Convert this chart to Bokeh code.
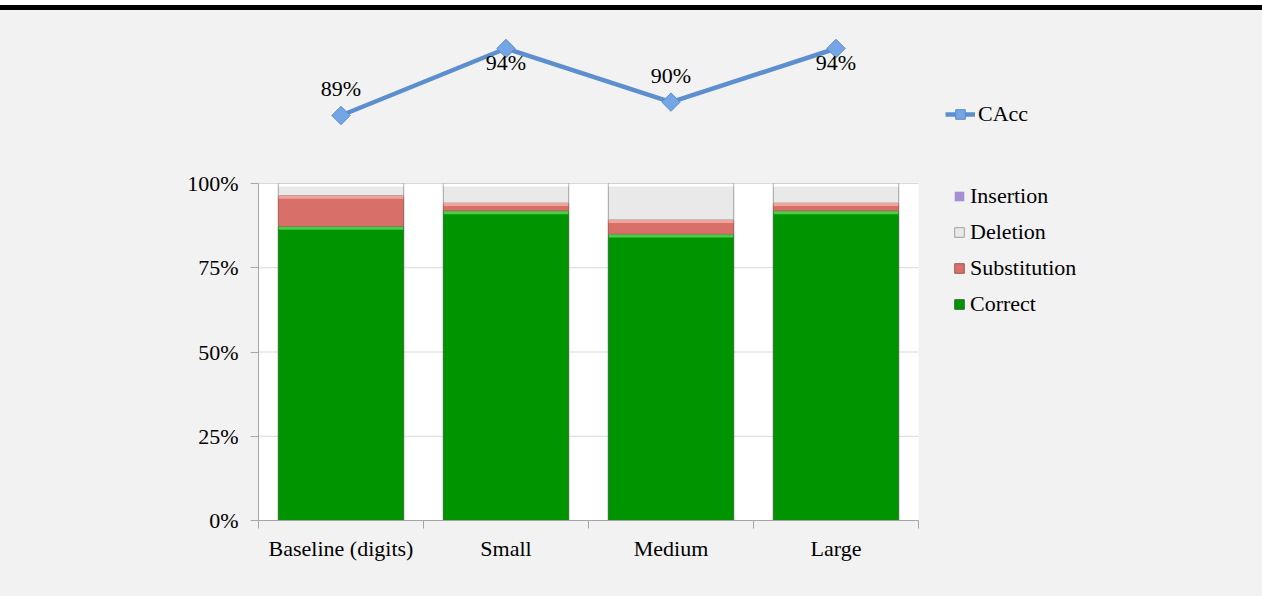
import numpy as np
from bokeh.plotting import figure
from bokeh.models import (ColumnDataSource, Range1d, FixedTicker, NumeralTickFormatter,
                          Legend, LegendItem, Div)
from bokeh.layouts import column
from bokeh.core.properties import value
from bokeh.embed import file_html
from bokeh.resources import INLINE

# ---- data ----
categories = ["Baseline (digits)", "Small", "Medium", "Large"]
correct = [0.872, 0.918, 0.849, 0.918]
substitution = [0.092, 0.024, 0.043, 0.024]
deletion = [0.036, 0.058, 0.108, 0.058]
insertion = [0.0, 0.0, 0.0, 0.0]
cacc = [0.89, 0.94, 0.90, 0.94]
cacc_labels = ["89%", "94%", "90%", "94%"]
y_ticks = [0, 0.25, 0.5, 0.75, 1.0]

# ---- style ----
FONT = "Liberation Serif"
FS = "22px"
W = 1262
LEFT = 258          # left edge of plot area (px)
PLOT_W = 660        # width of the category plot area (px)
PLOT_H = 337        # height of the 0-100% plot area (px)
TOP_PAD = 13        # space above the 100% line inside the bar figure (px)
BG = "#f2f2f2"
AXIS = "#a6a6a6"

n = len(categories)
xpos = np.arange(n) + 0.5
xbounds = list(range(n + 1))
x_end = n * (W - LEFT) / PLOT_W      # frame extends to the right edge; categories keep their width
y_end = 1 + TOP_PAD / PLOT_H         # frame extends to the top edge of the bar figure

# ---- top: CAcc line ----
top = figure(width=W, height=160, x_range=Range1d(0, x_end),
             y_range=Range1d(0.86537, 0.94746),
             output_backend="svg", toolbar_location=None,
             x_axis_location=None, y_axis_location=None,
             min_border_left=LEFT, min_border_right=0,
             min_border_top=28, min_border_bottom=22)
top.grid.visible = False
top.outline_line_color = None
top.background_fill_color = BG
top.border_fill_color = BG

cmax = max(cacc)
lsrc = ColumnDataSource(dict(x=xpos, y=cacc, t=cacc_labels,
                             off=[14 if v >= cmax else -27 for v in cacc]))
lr = top.line("x", "y", source=lsrc, line_color="#5d8fcf", line_width=4.5)
sr = top.scatter("x", "y", source=lsrc, marker="square", angle=np.pi / 4, size=13,
                 fill_color="#74a6e6", line_color="#5a8cc8", line_width=1)
top.text("x", "y", text="t", source=lsrc, y_offset="off",
         text_align="center", text_baseline="middle",
         text_font=value(FONT), text_font_size=FS, text_color="black")

leg_top = Legend(items=[LegendItem(label="CAcc", renderers=[lr, sr])],
                 location=(687, 21), orientation="vertical",
                 glyph_width=30, glyph_height=24, label_height=24,
                 label_standoff=3, padding=0, margin=0, spacing=12,
                 border_line_color=None, background_fill_alpha=0,
                 label_text_font=FONT, label_text_font_size=FS,
                 label_text_color="black")
top.add_layout(leg_top, "center")

# ---- bottom: stacked bars ----
bars = figure(width=W, height=426, x_range=Range1d(0, x_end),
              y_range=Range1d(0, y_end),
              output_backend="svg", toolbar_location=None,
              min_border_left=LEFT, min_border_right=0,
              min_border_top=0, min_border_bottom=76)
bars.background_fill_color = BG
bars.border_fill_color = BG
bars.outline_line_color = None
bars.xgrid.visible = False
bars.ygrid.visible = False

# white plot area and horizontal gridlines over the category span only
bars.quad(left=[0], right=[n], bottom=[y_ticks[0]], top=[y_ticks[-1]],
          fill_color="white", line_color=None)
bars.segment(x0=[0] * (len(y_ticks) - 1), x1=[n] * (len(y_ticks) - 1),
             y0=y_ticks[1:], y1=y_ticks[1:], line_color="#d9d9d9", line_width=1)

src = ColumnDataSource(dict(x=xpos, correct=correct, substitution=substitution,
                            deletion=deletion, insertion=insertion))
series = ["correct", "substitution", "deletion", "insertion"]
fills = ["#009400", "#d86f69", "#e9e9e9", "#a58fd2"]
lines = ["#2f6f2f", "#9a5a56", "#a0a0a0", None]
highlights = ["#48cf48", "#f3a19b", "#ffffff", "#c7b6ea"]
rs = bars.vbar_stack(series, x="x", width=0.76, source=src,
                     fill_color=fills, line_color=lines, line_width=1)

# bevel highlight strips at the top of each stacked segment
stack_vals = np.array([correct, substitution, deletion])
tops = np.cumsum(stack_vals, axis=0)
for i in range(stack_vals.shape[0]):
    hsrc = ColumnDataSource(dict(x=xpos, top=tops[i], bottom=tops[i] - 0.009))
    bars.vbar(x="x", top="top", bottom="bottom", width=0.755, source=hsrc,
              fill_color=highlights[i], line_color=None)

yax = bars.yaxis[0]
yax.bounds = (y_ticks[0], y_ticks[-1])
yax.ticker = FixedTicker(ticks=y_ticks)
yax.formatter = NumeralTickFormatter(format="0%")
yax.axis_line_color = AXIS
yax.major_tick_line_color = AXIS
yax.major_tick_in = 0
yax.major_tick_out = 8
yax.minor_tick_line_color = None
yax.major_label_standoff = 12
yax.major_label_text_font = FONT
yax.major_label_text_font_size = FS
yax.major_label_text_color = "black"

xax = bars.xaxis[0]
xax.bounds = (0, n)
xax.ticker = FixedTicker(ticks=list(xpos), minor_ticks=xbounds)
xax.major_label_overrides = {float(x): c for x, c in zip(xpos, categories)}
xax.axis_line_color = AXIS
xax.major_tick_line_color = None
xax.minor_tick_line_color = AXIS
xax.minor_tick_in = 0
xax.minor_tick_out = 8
xax.major_label_standoff = 7
xax.major_label_text_font = FONT
xax.major_label_text_font_size = FS
xax.major_label_text_color = "black"

labels = ["Insertion", "Deletion", "Substitution", "Correct"]
leg_items = [LegendItem(label=l, renderers=[r]) for l, r in zip(labels, rs[::-1])]
leg = Legend(items=leg_items, location=(695, 203), orientation="vertical",
             glyph_width=12, glyph_height=12, label_height=24,
             label_standoff=5, padding=0, margin=0, spacing=10,
             border_line_color=None, background_fill_alpha=0,
             label_text_font=FONT, label_text_font_size=FS,
             label_text_color="black")
bars.add_layout(leg, "center")

bar_div = Div(width=W, height=10, margin=0,
              styles={"background": "linear-gradient(#ffffff 0px, #ffffff 5px, #000000 5px, #000000 10px)"})

layout = column(bar_div, top, bars, spacing=0, styles={"background": BG})
open("out.html", "w").write(file_html(layout, INLINE))
